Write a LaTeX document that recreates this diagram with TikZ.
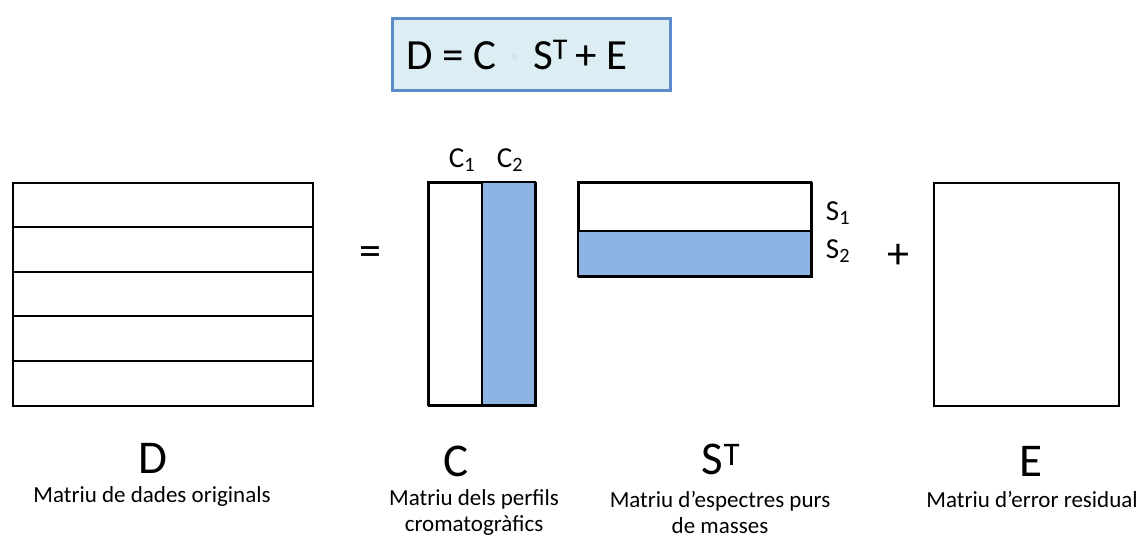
\documentclass[tikz,border=0pt]{standalone}
\usepackage{fontspec}
\setmainfont{Carlito}
\definecolor{boxfill}{HTML}{DCEEF4}
\definecolor{boxline}{HTML}{5B8BC9}
\definecolor{compblue}{HTML}{8EB4E3}
\begin{document}
\begin{tikzpicture}[x=1pt,y=-1pt,
  mat/.style={draw=black,line width=2pt,fill=white,inner sep=0pt,anchor=north west},
  bigname/.style={font=\fontsize{47}{50}\selectfont,inner sep=0pt},
  captext/.style={font=\fontsize{23}{26}\selectfont,align=center,inner sep=0pt},
  complab/.style={font=\fontsize{29}{32}\selectfont,inner sep=0pt},
  opsym/.style={font=\fontsize{44}{48}\selectfont,inner sep=0pt}]
\useasboundingbox (0,0) rectangle (1139,538);
% equation box
\node[draw=boxline,fill=boxfill,line width=3pt,minimum width=278pt,minimum height=72pt,anchor=north west,
      inner sep=0pt] (eqbox) at (391,17) {};
\node[font=\fontsize{43}{46}\selectfont,inner sep=0pt] (eq) at (517,55)
  {D = C \hspace{3pt}{\color{boxline!25}·}\hspace{3pt} S\textsuperscript{T}\,+ E};
% D matrix
\node[mat,minimum width=300pt,minimum height=223pt] (D) at (12,182) {};
\foreach \yy in {227,272,316,361} \draw[line width=2pt] (12,\yy) -- (312,\yy);
% C matrix
\node[mat,minimum width=107pt,minimum height=223pt] (C) at (428,182) {};
\fill[compblue] (482,182) rectangle (535,405);
\draw[line width=2pt] (428,182) rectangle (535,405);
\draw[line width=2pt] (482,182) -- (482,405);
% S^T matrix
\node[mat,minimum width=233pt,minimum height=94pt] (S) at (578,182) {};
\fill[compblue] (578,231) rectangle (811,276);
\draw[line width=2pt] (578,182) rectangle (811,276);
\draw[line width=2pt] (578,231) -- (811,231);
% E matrix
\node[mat,minimum width=185pt,minimum height=223pt] (E) at (933,182) {};
% operators
\node[opsym] (eqsign) at (370,256) {=};
\node[opsym] (plus) at (898,256) {+};
% component labels
\node[complab] (c1) at (462,160) {C\textsubscript{1}};
\node[complab] (c2) at (510,160) {C\textsubscript{2}};
\node[complab] (s1) at (838,213) {S\textsubscript{1}};
\node[complab] (s2) at (838,251) {S\textsubscript{2}};
% big names
\node[bigname] (nD) at (153,458) {D};
\node[bigname] (nC) at (456,461) {C};
\node[bigname] (nS) at (721,459) {S\textsuperscript{T}};
\node[bigname] (nE) at (1031,461) {E};
% captions
\node[captext] (tD) at (152,496) {Matriu de dades originals};
\node[captext] (tC) at (474,512) {Matriu dels perfils\\cromatogràfics};
\node[captext] (tS) at (720,512) {Matriu d’espectres purs\\de masses};
\node[captext] (tE) at (1032,499) {Matriu d’error residual};
\end{tikzpicture}
\end{document}
